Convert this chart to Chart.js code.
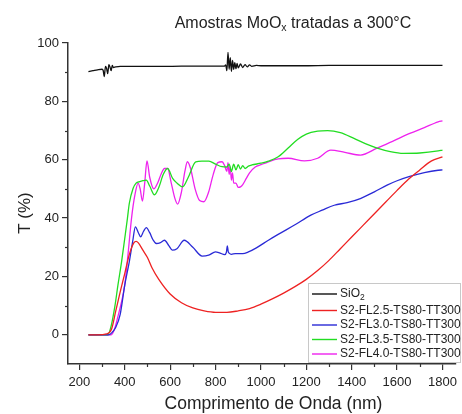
<!DOCTYPE html>
<html><head><meta charset="utf-8">
<script src="https://cdn.jsdelivr.net/npm/chart.js@4.4.0/dist/chart.umd.min.js"></script>
<style>html,body{margin:0;padding:0;background:#fff;}</style>
</head><body>
<canvas id="c" width="462" height="414"></canvas>
<script>
// ---- data ----
const sio2Wl = [240,260,280,300,305,310,315,320,325,330,335,340,345,350,360,380,400,450,500,600,700,800,840,845,850,855,860,865,870,875,880,885,890,895,900,910,920,930,940,950,960,980,1000,1100,1200,1300,1400,1500,1600,1700,1800];
const sio2T  = [90.2,90.5,90.8,91.0,90.6,88.5,92.0,91.3,89.5,92.6,91.8,90.5,92.3,91.6,91.8,92.0,92.0,92.0,92.0,92.0,92.1,92.1,92.1,92.5,90.5,96.8,91.0,95.0,90.3,94.0,91.0,93.3,91.2,93.0,91.5,92.8,91.6,92.6,91.8,92.5,92.0,92.3,92.2,92.2,92.2,92.3,92.3,92.3,92.3,92.3,92.3];

const fl25Wl = [240,280,320,342,360,380,400,420,440,450,460,480,500,520,550,600,650,700,750,800,850,900,950,1000,1050,1100,1150,1200,1250,1300,1350,1400,1450,1500,1550,1600,1650,1700,1750,1800];
const fl25T  = [0,0,0.3,2,8,14.7,21,27.5,31.5,32,31.5,29,26.5,23,19,14,11,9.2,8.2,7.7,7.7,8.2,9,10.5,12.3,14.3,16.5,19,22,25.5,29.5,33.5,37.5,41.5,45.5,49.5,53.3,56.5,59.5,61];

const fl30Wl = [240,300,330,340,360,380,400,420,435,447,460,470,483,495,510,525,539,555,575,595,610,630,662,700,741,770,800,820,840,848,852,856,860,870,887,920,945,980,1033,1076,1150,1220,1270,1323,1380,1438,1500,1556,1600,1656,1720,1781,1800];
const fl30T  = [0,0,0,0.5,2.5,7,17,25,32,37,35,33.6,35.5,36.7,35,32.5,31.3,31.5,32.4,30.5,29,29.5,32.4,30,27,27.3,28.4,28,27.5,28.3,30.5,28.5,28,27.6,27.8,27.8,28.4,29.8,32.4,34.4,37.7,41,42.7,44.4,45.3,46.7,49,51.3,52.8,54.3,55.6,56.4,56.5];

const fl35Wl = [240,300,325,340,357,370,386,400,412,420,437,450,466,480,495,510,531,550,570,589,611,630,655,680,713,740,771,800,829,850,860,870,880,890,900,910,920,930,945,960,1000,1033,1076,1120,1163,1200,1250,1294,1350,1410,1460,1512,1570,1628,1700,1781,1800];
const fl35T  = [0,0,0,3,10,17,25,33,40,45,50.2,52,52.5,52.8,53,51,48,50.5,55,57,53.6,52,50.7,54,59.3,59.5,59.5,58.5,57.6,57.5,58.5,56,58.5,56.5,58.3,56.8,58,57,57.8,58.2,58.8,59.5,61,64,67,68.8,69.8,70,69.3,67.3,65.5,64,62.8,62.2,62.3,63,63.3];

const fl40Wl = [240,300,340,355,371,385,400,415,430,445,459,468,478,488,498,510,528,545,560,575,589,605,620,633,650,665,676,690,710,730,749,770,790,810,829,840,850,855,860,865,870,875,880,890,900,910,920,935,950,975,1000,1033,1076,1120,1192,1250,1308,1370,1439,1512,1580,1656,1720,1781,1800];
const fl40T  = [0,0,0,2,6.6,11,17,28,40,48,52,50,45.8,52,59.6,54,50,52,55,57,57,52,47,44.8,49,56,59.3,57,50,46,45.6,49,55,59,59.3,58,56,59,55,57.5,53,55.5,52,52,50.5,50.7,51.5,53.5,55.5,57.5,58.3,59.3,60.3,60.5,59.6,60.5,63.3,62.5,61.6,64,66.3,69,71,73,73.3];

const seriesNames  = ['SiO2','S2-FL2.5-TS80-TT300','S2-FL3.0-TS80-TT300','S2-FL3.5-TS80-TT300','S2-FL4.0-TS80-TT300'];
const seriesColors = ['#111111','#ee2222','#2a2ad6','#22dd22','#ee22ee'];
const xMajorTicks = [200,400,600,800,1000,1200,1400,1600,1800];
const xMinorTicks = [300,500,700,900,1100,1300,1500,1700];
const yMajorTicks = [0,20,40,60,80,100];
const yMinorTicks = [10,30,50,70,90];
const titleMain = 'Amostras MoO';
const titleSub = 'x';
const titleRest = ' tratadas a 300°C';
const xTitle = 'Comprimento de Onda (nm)';
const yTitle = 'T (%)';

const FONT = "'Liberation Sans', Arial, sans-serif";
const TXT = '#222';

function pts(wl, t){ return wl.map((w,i)=>({x:w, y:t[i]})); }
const allData = [[sio2Wl,sio2T],[fl25Wl,fl25T],[fl30Wl,fl30T],[fl35Wl,fl35T],[fl40Wl,fl40T]];

const datasets = allData.map((d,i)=>({
  label: seriesNames[i],
  data: pts(d[0], d[1]),
  borderColor: seriesColors[i],
  backgroundColor: seriesColors[i],
  borderWidth: 1.3,
  pointRadius: 0,
  cubicInterpolationMode: 'monotone',
  fill: false
}));

const decorPlugin = {
  id: 'decor',
  afterDraw(chart){
    const ctx = chart.ctx;
    const xs = chart.scales.x, ys = chart.scales.y;
    const ca = chart.chartArea;
    ctx.save();
    // minor ticks
    ctx.strokeStyle = '#333'; ctx.lineWidth = 1.2;
    xMinorTicks.forEach(v=>{
      const p = Math.round(xs.getPixelForValue(v))+0.5;
      ctx.beginPath(); ctx.moveTo(p, ca.bottom); ctx.lineTo(p, ca.bottom+3); ctx.stroke();
    });
    yMinorTicks.forEach(v=>{
      const p = Math.round(ys.getPixelForValue(v))+0.5;
      ctx.beginPath(); ctx.moveTo(ca.left, p); ctx.lineTo(ca.left-3, p); ctx.stroke();
    });
    // title with subscript
    ctx.fillStyle = TXT;
    ctx.textBaseline = 'alphabetic';
    ctx.textAlign = 'left';
    const fMain = '16px ' + FONT, fSub = '10.5px ' + FONT;
    ctx.font = fMain;
    const w1 = ctx.measureText(titleMain).width;
    const w3 = ctx.measureText(titleRest).width;
    ctx.font = fSub;
    const w2 = ctx.measureText(titleSub).width;
    const total = w1+w2+w3;
    let tx = 293 - total/2;
    const ty = 28;
    ctx.font = fMain; ctx.fillText(titleMain, tx, ty); tx += w1;
    ctx.font = fSub; ctx.fillText(titleSub, tx, ty+3); tx += w2;
    ctx.font = fMain; ctx.fillText(titleRest, tx, ty);
    // axis titles
    ctx.font = '17.5px ' + FONT;
    ctx.textAlign = 'center';
    ctx.textBaseline = 'alphabetic';
    ctx.fillText(xTitle, 273.5, 409);
    ctx.save();
    ctx.translate(30, 213);
    ctx.rotate(-Math.PI/2);
    ctx.font = '17px ' + FONT;
    ctx.fillText(yTitle, 0, 0);
    ctx.restore();
    // legend box
    const bx = 308.5, by = 283.5, bw = 152, bh = 79;
    ctx.fillStyle = '#fff';
    ctx.fillRect(bx, by, bw, bh);
    ctx.strokeStyle = '#c8c8c8'; ctx.lineWidth = 1;
    ctx.strokeRect(bx, by, bw, bh);
    const rows = [294, 310.5, 325, 339.5, 354];
    ctx.textAlign = 'left';
    ctx.textBaseline = 'middle';
    seriesNames.forEach((name,i)=>{
      const ry = rows[i];
      ctx.strokeStyle = seriesColors[i]; ctx.lineWidth = 1.4;
      ctx.beginPath(); ctx.moveTo(312, ry); ctx.lineTo(337, ry); ctx.stroke();
      ctx.fillStyle = TXT;
      ctx.font = '12px ' + FONT;
      if (i === 0) {
        const base = 'SiO';
        ctx.fillText(base, 340, ry);
        const bw0 = ctx.measureText(base).width;
        ctx.font = '8.5px ' + FONT;
        ctx.fillText('2', 340+bw0, ry+4);
      } else {
        ctx.fillText(name, 340, ry);
      }
    });
    ctx.restore();
  }
};

new Chart(document.getElementById('c'), {
  type: 'line',
  data: { datasets },
  options: {
    responsive: false,
    animation: false,
    devicePixelRatio: 1,
    layout: { padding: { left: 0, right: 2, top: 43, bottom: 0 } },
    plugins: { legend: { display: false }, tooltip: { enabled: false }, title: { display: false } },
    scales: {
      x: {
        type: 'linear', min: 150, max: 1860,
        afterFit(s){ s.height = 50; },
        afterBuildTicks(s){ s.ticks = xMajorTicks.map(v=>({value:v})); },
        ticks: { color: TXT, font: { family: FONT, size: 13 }, padding: 5, maxRotation: 0, autoSkip: false,
                 callback: (v)=>String(v) },
        grid: { display: true, drawOnChartArea: false, drawTicks: true, tickLength: 6, color: '#333', lineWidth: 1.2 },
        border: { display: true, color: '#333', width: 1.5 }
      },
      y: {
        type: 'linear', min: -10, max: 100,
        afterFit(s){ s.width = 68; },
        afterBuildTicks(s){ s.ticks = yMajorTicks.map(v=>({value:v})); },
        ticks: { color: TXT, font: { family: FONT, size: 13 }, padding: 3, autoSkip: false,
                 callback: (v)=>String(v) },
        grid: { display: true, drawOnChartArea: false, drawTicks: true, tickLength: 6, color: '#333', lineWidth: 1.2 },
        border: { display: true, color: '#333', width: 1.5 }
      }
    }
  },
  plugins: [decorPlugin]
});
</script>
</body></html>
